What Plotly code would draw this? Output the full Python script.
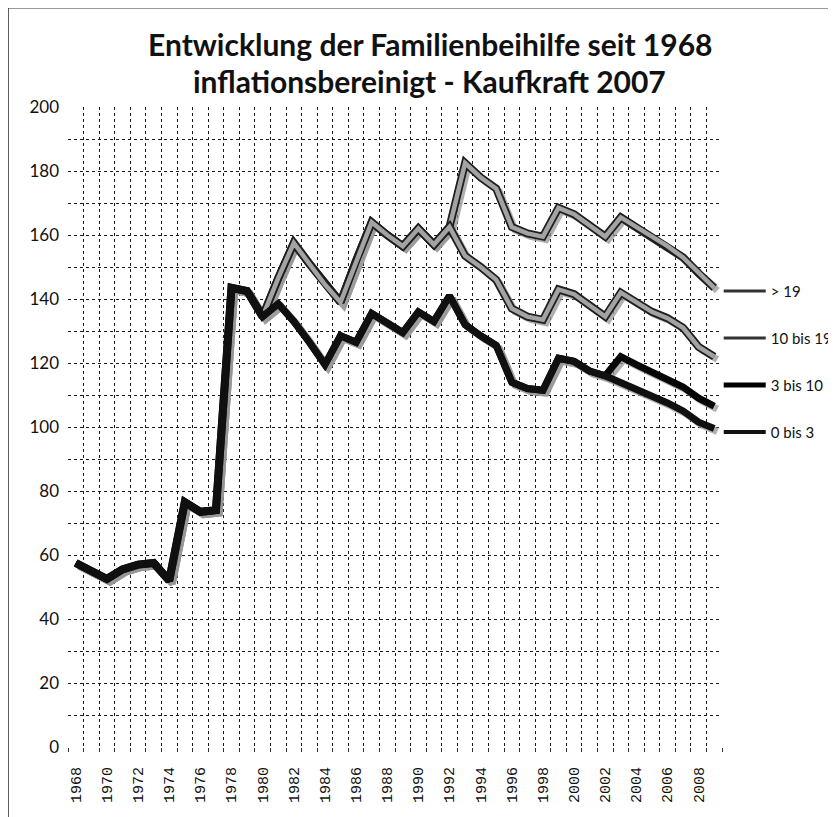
import plotly.graph_objects as go

years = list(range(1968, 2010))

common = [57.5, 55, 52.5, 55.5, 57, 57.5, 52, 76.5, 73.5, 74, 143.5, 142.5, 134.5]

gt19 = common + [146.5, 157.5, 151, 144.5, 139, 152, 164, 160, 156.5, 162, 157, 162.5,
                 182.5, 178, 174.5, 162.5, 160.5, 159.5, 168.5, 166.5, 163, 159.5,
                 165.5, 162.5, 159.5, 156.5, 153, 148, 143.5]
b10_19 = common + [146.5, 157.5, 151, 144.5, 139, 152, 164, 160, 156.5, 162, 157, 162.5,
                   153.5, 150, 146, 137, 134.5, 133.5, 143, 141.5, 138, 134.5,
                   142, 139, 136, 134, 131, 125, 122]
b3_10 = common + [138.5, 133, 126.5, 119.5, 128.5, 126.5, 135.5, 132.5, 129.5, 136, 133, 141,
                  132, 128.5, 125.5, 114, 112, 111.5, 121.5, 120.5, 117.5, 116,
                  122, 119.5, 117, 115, 112.5, 109, 106.5]
b0_3 = common + [138.5, 133, 126.5, 119.5, 128.5, 126.5, 135.5, 132.5, 129.5, 136, 133, 141,
                 132, 128.5, 125.5, 114, 112, 111.5, 121.5, 120.5, 117.5, 116,
                 114, 112, 109.5, 107.5, 105, 101.5, 99.5]

series_names = ["> 19", "10 bis 19", "3 bis 10", "0 bis 3"]
series_values = [gt19, b10_19, b3_10, b0_3]

tick_years = list(range(1968, 2009, 2))
tick_labels = [str(y) for y in tick_years]

title_line1 = "Entwicklung der Familienbeihilfe seit 1968"
title_line2 = "inflationsbereinigt - Kaufkraft 2007"

fig = go.Figure()

# shadows (base axes, shifted ranges)
for vals in series_values:
    fig.add_trace(go.Scatter(x=years, y=vals, mode="lines", xaxis="x", yaxis="y",
                             line=dict(color="rgba(150,150,150,0.75)", width=7),
                             showlegend=False, hoverinfo="skip"))

styles = {
    "> 19": [("#1e1e1e", 8), ("#a3a3a3", 4.5)],
    "10 bis 19": [("#1e1e1e", 8), ("#a3a3a3", 4.5)],
    "3 bis 10": [("#050505", 7)],
    "0 bis 3": [("#101010", 7)],
}
legend_style = {
    "> 19": ("#333333", 3),
    "10 bis 19": ("#333333", 3),
    "3 bis 10": ("#000000", 5),
    "0 bis 3": ("#111111", 4),
}

for name, vals in zip(series_names, series_values):
    for color, w in styles[name]:
        fig.add_trace(go.Scatter(x=years, y=vals, mode="lines", xaxis="x2", yaxis="y2",
                                 line=dict(color=color, width=w), legendgroup=name,
                                 showlegend=False, name=name))

for name in series_names:
    c, w = legend_style[name]
    fig.add_trace(go.Scatter(x=[None], y=[None], mode="lines", xaxis="x2", yaxis="y2",
                             line=dict(color=c, width=w), name=name, legendgroup=name,
                             showlegend=True))

grid = dict(gridcolor="#1a1a1a", gridwidth=1, griddash="dot")

fig.update_layout(
    width=836, height=817,
    margin=dict(l=60, r=122, t=99, b=78, autoexpand=False),
    paper_bgcolor="white", plot_bgcolor="white",
    xaxis=dict(range=[1967.5 - 0.2, 2009.5 - 0.2], visible=False, fixedrange=True),
    yaxis=dict(range=[0.9, 200.9], visible=False, fixedrange=True),
    xaxis2=dict(overlaying="x", anchor="y2", side="bottom", range=[1967.5, 2009.5],
                tickmode="array", tickvals=tick_years, ticktext=tick_labels,
                tickangle=-90, ticks="", showgrid=False, zeroline=False,
                tickfont=dict(family="Liberation Mono", size=15, color="#111"),
                ticklabelstandoff=16,
                minor=dict(tick0=1967.5, dtick=1, showgrid=True, ticks="outside",
                           ticklen=4, tickcolor="#333", **grid)),
    yaxis2=dict(overlaying="y", anchor="x2", side="left", range=[0, 200], dtick=20,
                ticks="", zeroline=False, showgrid=True, **grid,
                tickfont=dict(family="Lato", size=17, color="#111"),
                ticklabelstandoff=8,
                minor=dict(dtick=10, showgrid=True, **grid)),
    legend=dict(x=0.995, xanchor="left", y=0.738, yanchor="top",
                traceorder="grouped", tracegroupgap=24.5, itemwidth=42,
                font=dict(family="Lato", size=15, color="#111"),
                bgcolor="rgba(0,0,0,0)"),
    showlegend=True,
    annotations=[
        dict(text=title_line1, xref="paper", yref="paper", x=0.5535, y=1.098,
             showarrow=False, xanchor="center", yanchor="middle",
             font=dict(family="Lato", size=30, color="#111", weight="bold")),
        dict(text=title_line2, xref="paper", yref="paper", x=0.5535, y=1.040,
             showarrow=False, xanchor="center", yanchor="middle",
             font=dict(family="Lato", size=30, color="#111", weight="bold")),
    ],
    shapes=[dict(type="rect", xref="paper", yref="paper", x0=-0.0917, x1=1.25,
                 y0=-0.2, y1=1.155, line=dict(color="#333", width=1.5))],
)

fig.write_html("out.html")
